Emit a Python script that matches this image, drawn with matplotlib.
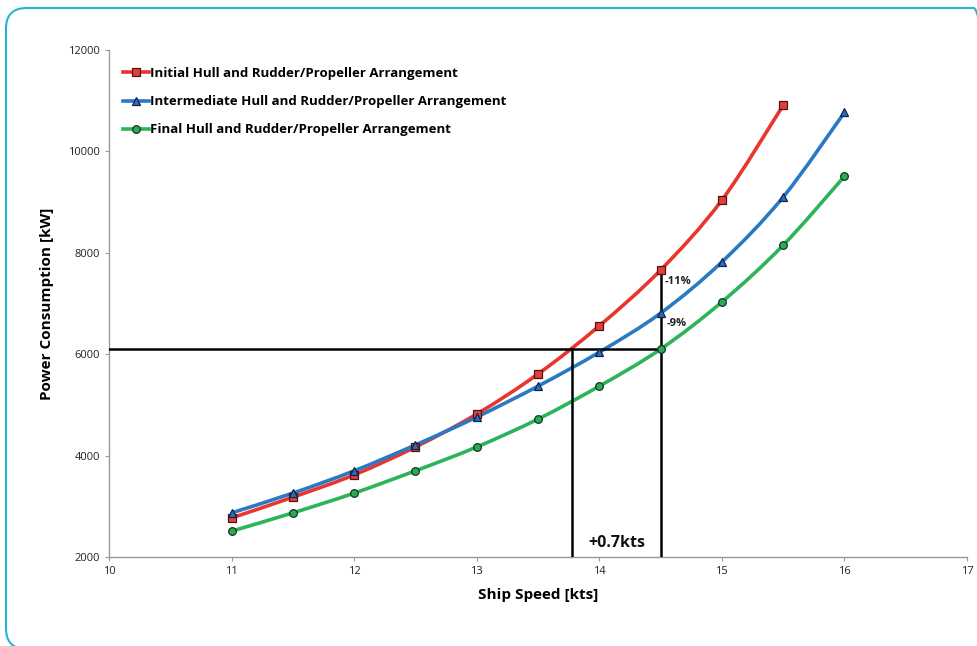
"""
Ship power consumption vs speed for three hull/propeller arrangements.
"""

import matplotlib.pyplot as plt
import numpy as np
from matplotlib.path import Path
from matplotlib.patches import PathPatch, FancyBboxPatch
from matplotlib.lines import Line2D

plt.rcParams['font.family'] = ['Open Sans', 'DejaVu Sans']

# Data
speed_initial = [11, 11.5, 12, 12.5, 13, 13.5, 14, 14.5, 15, 15.5]
power_initial = [2770, 3180, 3620, 4170, 4820, 5610, 6560, 7660, 9040, 10910]

speed_inter = [11, 11.5, 12, 12.5, 13, 13.5, 14, 14.5, 15, 15.5, 16]
power_inter = [2870, 3260, 3700, 4210, 4760, 5370, 6040, 6810, 7820, 9100, 10770]

speed_final = [11, 11.5, 12, 12.5, 13, 13.5, 14, 14.5, 15, 15.5, 16]
power_final = [2510, 2870, 3260, 3700, 4170, 4720, 5370, 6100, 7030, 8150, 9510]

labels = ['Initial Hull and Rudder/Propeller Arrangement',
          'Intermediate Hull and Rudder/Propeller Arrangement',
          'Final Hull and Rudder/Propeller Arrangement']

# reference lines
ref_power = 6100
ref_speed_a = 13.78
ref_speed_b = 14.5
ref_top_b = 7660

colors = ['#e8362f', '#2b79c2', '#2db45a']
faces = ['#e0403c', '#2f6fb8', '#30a85a']
edges = ['#5a1010', '#0d2450', '#0c3a1c']
markers = ['s', '^', 'o']


def smooth_path(x, y, tension=1/6.):
    # Catmull-Rom style bezier through the points (like Excel smoothed lines)
    x = np.asarray(x, float)
    y = np.asarray(y, float)
    pts = np.column_stack([x, y])
    verts = [pts[0]]
    codes = [Path.MOVETO]
    n = len(pts)
    for i in range(n - 1):
        p0 = pts[i - 1] if i > 0 else pts[i]
        p1 = pts[i]
        p2 = pts[i + 1]
        p3 = pts[i + 2] if i + 2 < n else pts[i + 1]
        c1 = p1 + (p2 - p0) * tension
        c2 = p2 - (p3 - p1) * tension
        verts += [c1, c2, p2]
        codes += [Path.CURVE4] * 3
    return Path(verts, codes)


fig = plt.figure(figsize=(9.78, 6.46), dpi=100)

# rounded frame, only top-left part fully visible
frame = FancyBboxPatch((6/978, -3/646), 988/978, 641/646,
                       boxstyle='round,pad=0,rounding_size=0.021',
                       transform=fig.transFigure, facecolor='none', edgecolor='#25b4d4',
                       linewidth=1.5, mutation_aspect=978/646)
fig.patches.append(frame)

ax = fig.add_axes([0.1115, 0.1378, 0.8773, 0.7848])

series = [(speed_initial, power_initial), (speed_inter, power_inter), (speed_final, power_final)]
handles = []
for (xs, ys), c, fc, ec, m, lab in zip(series, colors, faces, edges, markers, labels):
    ax.add_patch(PathPatch(smooth_path(xs, ys), facecolor='none', edgecolor=c, lw=2.6, zorder=2))
    ax.plot(xs, ys, linestyle='none', marker=m, markersize=5.5, markerfacecolor=fc,
            markeredgecolor=ec, markeredgewidth=0.9, zorder=4)
    handles.append(Line2D([], [], color=c, lw=2.6, marker=m, markersize=5.5,
                          markerfacecolor=fc, markeredgecolor=ec, markeredgewidth=0.9))

# black guide lines
ax.plot([10, ref_speed_b], [ref_power, ref_power], color='black', lw=1.8, zorder=3)
ax.plot([ref_speed_a, ref_speed_a], [2000, ref_power], color='black', lw=1.8, zorder=3)
ax.plot([ref_speed_b, ref_speed_b], [2000, ref_top_b], color='black', lw=1.8, zorder=3)

ax.text(14.53, 7430, '-11%', fontsize=8, fontweight='bold', color='#222222', va='center')
ax.text(14.55, 6600, '-9%', fontsize=8, fontweight='bold', color='#222222', va='center')
ax.text(14.14, 2270, '+0.7kts', fontsize=11.5, fontweight='bold', color='#111111',
        ha='center', va='center')

ax.set_xlim(10, 17)
ax.set_ylim(2000, 12000)
ax.set_xticks(range(10, 18))
ax.set_yticks(range(2000, 12001, 2000))
ax.tick_params(axis='both', labelsize=8, color='#999999', length=3, labelcolor='#222222')

for s in ['top', 'right']:
    ax.spines[s].set_visible(False)
for s in ['left', 'bottom']:
    ax.spines[s].set_color('#999999')
    ax.spines[s].set_linewidth(1.0)

ax.set_xlabel('Ship Speed [kts]', fontsize=11, fontweight='bold', labelpad=8)
ax.set_ylabel('Power Consumption [kW]', fontsize=11, fontweight='bold', labelpad=10)

ax.legend(handles=handles, labels=labels, loc='upper left', bbox_to_anchor=(0.002, 0.99),
          frameon=False, handlelength=2.0, handletextpad=0.1, labelspacing=1.15,
          prop={'size': 9.5, 'weight': 'bold'})

plt.savefig('out.png', dpi=100)
plt.close()
